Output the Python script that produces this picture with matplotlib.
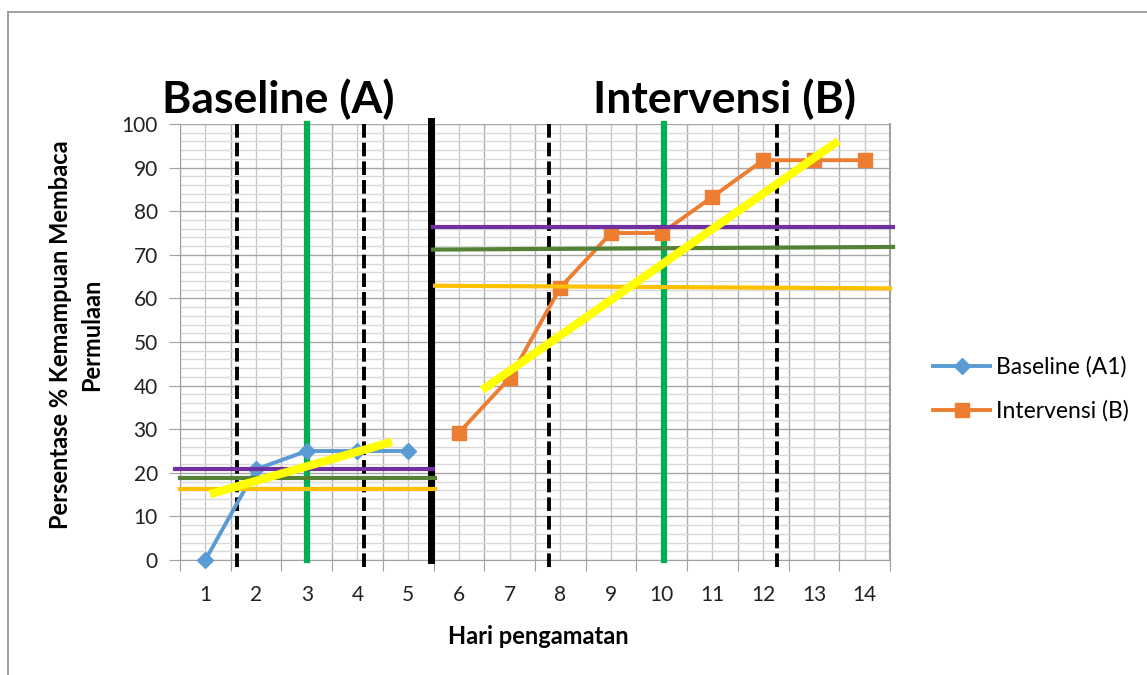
import matplotlib
matplotlib.use("Agg")
import matplotlib.pyplot as plt
from matplotlib.ticker import MultipleLocator, FixedLocator, NullFormatter

# ---- data ----
days = list(range(1, 15))
baseline_days = [1, 2, 3, 4, 5]
baseline_vals = [0, 20.8, 25, 25, 25]
interv_days = [6, 7, 8, 9, 10, 11, 12, 13, 14]
interv_vals = [29.2, 41.7, 62.5, 75, 75, 83.3, 91.7, 91.7, 91.7]

# reference (drawn) lines
base_purple = ([0.40, 5.49], [20.9, 20.9])
base_green = ([0.50, 5.53], [18.8, 18.8])
base_orange = ([0.50, 5.53], [16.2, 16.2])
int_purple = ([5.49, 14.56], [76.4, 76.4])
int_green = ([5.49, 14.56], [71.2, 71.8])
int_orange = ([5.53, 14.50], [62.9, 62.3])
base_trend = ([1.09, 4.68], [15.1, 27.1])
int_trend = ([6.46, 13.48], [39.0, 96.1])
dashed_x = [1.62, 4.13, 7.78, 12.28]
green_x = [3.0, 10.05]
phase_x = 5.45

fig = plt.figure(figsize=(11.47, 6.75), dpi=100)
plt.rcParams['font.family'] = ['Lato', 'DejaVu Sans']

# outer border
fig.add_artist(plt.Line2D([8/1147, 1.0], [1 - 11.5/675, 1 - 11.5/675], color='#999999', lw=1.3))
fig.add_artist(plt.Line2D([8/1147, 8/1147], [1 - 11.5/675, 0], color='#999999', lw=1.3))

ax = fig.add_axes([180/1147, 1 - 560/675, (890 - 180)/1147, (560 - 124)/675])
ax.set_xlim(0.5, 14.5)
ax.set_ylim(0, 100)

# gridlines
ax.yaxis.set_major_locator(MultipleLocator(10))
ax.yaxis.set_minor_locator(MultipleLocator(2))
ax.xaxis.set_major_locator(FixedLocator([d + 0.5 for d in [0] + days]))
ax.xaxis.set_minor_locator(FixedLocator(days))
ax.xaxis.set_major_formatter(NullFormatter())
ax.grid(which='major', axis='y', color='#a6a6a6', lw=1.0)
ax.grid(which='minor', axis='y', color='#d9d9d9', lw=1.0)
ax.grid(which='major', axis='x', color='#b0b0b0', lw=1.0)
ax.grid(which='minor', axis='x', color='#c8c8c8', lw=1.0)
ax.set_axisbelow(True)
ax.spines['top'].set_visible(False)
ax.spines['left'].set_color('#a0a0a0')
ax.spines['bottom'].set_color('#a0a0a0')
ax.spines['right'].set_color('#a0a0a0')
ax.spines['right'].set_linewidth(1.5)

ax.tick_params(axis='y', which='major', length=8, color='#a0a0a0', labelsize=15, labelcolor='#222222', pad=8)
ax.tick_params(axis='y', which='minor', length=0)
ax.tick_params(axis='x', which='major', length=8, color='#a0a0a0')
ax.tick_params(axis='x', which='minor', length=0, labelsize=15, labelcolor='#222222', pad=18)
ax.set_xticks(days, minor=True)
ax.set_xticklabels([str(d) for d in days], minor=True)

# vertical markers
for x in dashed_x:
    ax.plot([x, x], [-1.5, 100], color='black', lw=2.8, ls=(0, (3.5, 1.3)), clip_on=False, zorder=3)
for x in green_x:
    ax.plot([x, x], [0, 100], color='#00B050', lw=4.5, clip_on=False, zorder=3)
ax.plot([phase_x, phase_x], [0, 100.8], color='black', lw=5, clip_on=False, zorder=3)

# data series
ax.plot(baseline_days, baseline_vals, color='#5B9BD5', lw=2.8, marker='D', ms=8,
        label='Baseline (A1)', zorder=4, clip_on=False)
ax.plot(interv_days, interv_vals, color='#ED7D31', lw=2.8, marker='s', ms=10,
        label='Intervensi (B)', zorder=4, clip_on=False)

# level lines
for (xs, ys), c in [(base_purple, '#7030A0'), (base_green, '#538135'), (base_orange, '#FFC000'),
                    (int_purple, '#7030A0'), (int_green, '#538135'), (int_orange, '#FFC000')]:
    ax.plot(xs, ys, color=c, lw=3, clip_on=False, zorder=5)

# trend lines
for xs, ys in [base_trend, int_trend]:
    ax.plot(xs, ys, color='#FFFF00', lw=6, solid_capstyle='butt', zorder=6)

# phase titles
fig.text(162/1147, 1 - 113/675, 'Baseline (A)', fontsize=32, fontweight='bold',
         ha='left', va='baseline', color='black')
fig.text(593/1147, 1 - 113/675, 'Intervensi (B)', fontsize=32, fontweight='bold',
         ha='left', va='baseline', color='black')

# axis titles
fig.text(538/1147, 1 - 636/675, 'Hari pengamatan', fontsize=17, fontweight='bold',
         ha='center', va='center', color='black')
fig.text(76/1147, 1 - 335/675, 'Persentase % Kemampuan Membaca\nPermulaan', fontsize=17,
         fontweight='bold', rotation=90, ha='center', va='center', multialignment='center',
         linespacing=1.4, color='black')

fig.legend(loc='center left', bbox_to_anchor=(924/1147, 1 - 389/675), frameon=False,
           fontsize=16.5, handlelength=2.5, labelspacing=1.0, handletextpad=0.25,
           borderaxespad=0)

fig.savefig('out.png', dpi=100)
